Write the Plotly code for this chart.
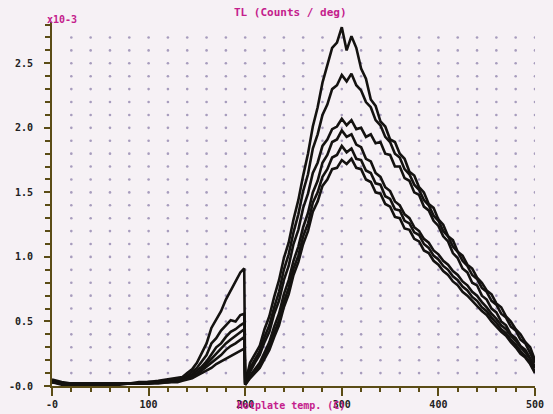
import numpy as np
import plotly.graph_objects as go

# Temperatures (C)
TEMP_PRE = [0, 10, 20, 30, 40, 50, 60, 70, 80, 90, 100, 110, 120, 130,
            135, 140, 145, 150, 155, 160, 165, 170, 175, 180, 185, 190, 195,
            199, 200]
TEMP_MAIN = list(range(205, 505, 5))

# TL (x10^-3 counts / deg) for six glow curves
A_PRE = [0.05, 0.03, 0.02, 0.02, 0.02, 0.02, 0.02, 0.02, 0.02, 0.03, 0.03, 0.04, 0.05, 0.06,
         0.07, 0.10, 0.13, 0.18, 0.26, 0.33, 0.45, 0.52, 0.58, 0.67, 0.74, 0.80, 0.88, 0.91, 0.02]
B_PRE = [0.04, 0.02, 0.02, 0.01, 0.02, 0.02, 0.02, 0.02, 0.02, 0.02, 0.03, 0.03, 0.04, 0.05,
         0.06, 0.08, 0.11, 0.14, 0.19, 0.24, 0.33, 0.37, 0.43, 0.47, 0.51, 0.50, 0.55, 0.56, 0.02]
C_PRE = [0.04, 0.02, 0.01, 0.01, 0.01, 0.02, 0.02, 0.02, 0.02, 0.02, 0.03, 0.03, 0.04, 0.05,
         0.06, 0.07, 0.09, 0.12, 0.15, 0.19, 0.25, 0.30, 0.33, 0.38, 0.42, 0.44, 0.47, 0.49, 0.02]
D_PRE = [0.03, 0.02, 0.01, 0.01, 0.01, 0.01, 0.02, 0.02, 0.02, 0.02, 0.02, 0.03, 0.03, 0.04,
         0.05, 0.06, 0.08, 0.10, 0.13, 0.17, 0.21, 0.25, 0.29, 0.33, 0.36, 0.39, 0.42, 0.44, 0.01]
E_PRE = [0.03, 0.02, 0.01, 0.01, 0.01, 0.01, 0.01, 0.02, 0.02, 0.02, 0.02, 0.03, 0.03, 0.04,
         0.05, 0.06, 0.07, 0.09, 0.12, 0.15, 0.18, 0.21, 0.24, 0.28, 0.31, 0.33, 0.36, 0.38, 0.01]
F_PRE = [0.03, 0.01, 0.01, 0.01, 0.01, 0.01, 0.01, 0.01, 0.02, 0.02, 0.02, 0.02, 0.03, 0.03,
         0.04, 0.05, 0.06, 0.08, 0.10, 0.12, 0.14, 0.17, 0.19, 0.21, 0.23, 0.25, 0.27, 0.29, 0.01]

A_MAIN = [0.18, 0.25, 0.31, 0.44, 0.54, 0.69, 0.82, 0.99, 1.11, 1.29, 1.44, 1.63, 1.80, 2.01, 2.16,
          2.35, 2.48, 2.62, 2.66, 2.78, 2.60, 2.71, 2.62, 2.46, 2.38, 2.22, 2.17, 2.05, 2.01, 1.91,
          1.89, 1.80, 1.76, 1.66, 1.63, 1.54, 1.50, 1.41, 1.38, 1.29, 1.25, 1.16, 1.13, 1.04, 1.01,
          0.94, 0.91, 0.84, 0.80, 0.74, 0.71, 0.64, 0.61, 0.54, 0.50, 0.44, 0.40, 0.34, 0.30, 0.20]
B_MAIN = [0.14, 0.21, 0.27, 0.38, 0.47, 0.61, 0.73, 0.90, 1.02, 1.19, 1.33, 1.51, 1.64, 1.84, 1.95,
          2.10, 2.18, 2.30, 2.33, 2.41, 2.36, 2.42, 2.33, 2.29, 2.20, 2.16, 2.06, 2.02, 1.93, 1.89,
          1.80, 1.77, 1.68, 1.64, 1.56, 1.52, 1.44, 1.40, 1.32, 1.28, 1.20, 1.16, 1.08, 1.04, 0.97,
          0.93, 0.86, 0.83, 0.76, 0.73, 0.66, 0.63, 0.56, 0.53, 0.46, 0.43, 0.36, 0.33, 0.26, 0.18]
C_MAIN = [0.11, 0.18, 0.24, 0.34, 0.42, 0.56, 0.66, 0.82, 0.93, 1.10, 1.21, 1.38, 1.49, 1.65, 1.73,
          1.86, 1.91, 1.99, 2.01, 2.07, 2.02, 2.06, 1.99, 2.00, 1.93, 1.95, 1.88, 1.89, 1.80, 1.79,
          1.70, 1.70, 1.61, 1.59, 1.50, 1.48, 1.39, 1.36, 1.28, 1.24, 1.16, 1.12, 1.03, 0.99, 0.91,
          0.88, 0.80, 0.78, 0.70, 0.67, 0.60, 0.57, 0.50, 0.47, 0.40, 0.37, 0.31, 0.28, 0.22, 0.15]
D_MAIN = [0.08, 0.13, 0.18, 0.26, 0.34, 0.46, 0.56, 0.71, 0.82, 0.97, 1.08, 1.23, 1.34, 1.50, 1.59,
          1.73, 1.79, 1.89, 1.91, 1.98, 1.93, 1.95, 1.87, 1.85, 1.76, 1.74, 1.65, 1.62, 1.54, 1.51,
          1.43, 1.40, 1.33, 1.30, 1.23, 1.20, 1.14, 1.11, 1.05, 1.02, 0.97, 0.94, 0.89, 0.86, 0.81,
          0.78, 0.73, 0.70, 0.65, 0.61, 0.56, 0.52, 0.47, 0.44, 0.39, 0.35, 0.30, 0.26, 0.21, 0.14]
E_MAIN = [0.07, 0.11, 0.16, 0.23, 0.31, 0.41, 0.51, 0.65, 0.76, 0.91, 1.01, 1.16, 1.26, 1.42, 1.50,
          1.62, 1.68, 1.77, 1.79, 1.86, 1.81, 1.84, 1.76, 1.75, 1.67, 1.65, 1.57, 1.56, 1.47, 1.45,
          1.37, 1.36, 1.28, 1.26, 1.19, 1.17, 1.10, 1.07, 1.01, 0.98, 0.93, 0.90, 0.85, 0.82, 0.77,
          0.74, 0.69, 0.66, 0.61, 0.58, 0.53, 0.49, 0.44, 0.41, 0.36, 0.32, 0.27, 0.23, 0.18, 0.11]
F_MAIN = [0.06, 0.10, 0.14, 0.21, 0.28, 0.38, 0.47, 0.61, 0.71, 0.86, 0.96, 1.10, 1.20, 1.35, 1.43,
          1.55, 1.60, 1.68, 1.69, 1.75, 1.72, 1.76, 1.69, 1.68, 1.60, 1.58, 1.50, 1.49, 1.41, 1.39,
          1.31, 1.30, 1.22, 1.21, 1.14, 1.12, 1.05, 1.03, 0.97, 0.94, 0.89, 0.86, 0.81, 0.78, 0.73,
          0.70, 0.66, 0.62, 0.58, 0.55, 0.50, 0.46, 0.42, 0.39, 0.34, 0.30, 0.25, 0.22, 0.17, 0.10]

Y_TICKS = [0.0, 0.5, 1.0, 1.5, 2.0, 2.5]
Y_TICK_TEXT = ["-0.0", "0.5", "1.0", "1.5", "2.0", "2.5"]
X_TICKS = [0, 100, 200, 300, 400, 500]
X_TICK_TEXT = ["-0", "100", "200", "300", "400", "500"]

BG = "#f6f1f5"
AXIS = "#5b4c16"
MAGENTA = "#c4208c"
FONT = "DejaVu Sans Mono"

temps = TEMP_PRE + TEMP_MAIN
curves = [A_PRE + A_MAIN, B_PRE + B_MAIN, C_PRE + C_MAIN,
          D_PRE + D_MAIN, E_PRE + E_MAIN, F_PRE + F_MAIN]

fig = go.Figure()

# dotted background lattice (grid decoration)
gx, gy = np.meshgrid(np.arange(20, 501, 20), np.round(np.arange(0.1, 2.75, 0.1), 2))
fig.add_trace(go.Scatter(x=gx.ravel(), y=gy.ravel(), mode="markers",
                         marker=dict(size=2.6, color="#a79cbd"),
                         hoverinfo="skip", showlegend=False))

for c in curves:
    fig.add_trace(go.Scatter(x=temps, y=c, mode="lines",
                             line=dict(color="#141210", width=2.6),
                             showlegend=False))

fig.update_layout(
    width=553, height=414,
    margin=dict(l=52, r=18, t=22, b=28),
    paper_bgcolor=BG, plot_bgcolor=BG,
    font=dict(family=FONT, size=10, color="#111"),
    xaxis=dict(range=[0, 500], showgrid=False, zeroline=False, automargin=False,
               showline=True, linecolor=AXIS, linewidth=2,
               tickvals=X_TICKS, ticktext=X_TICK_TEXT,
               ticks="outside", ticklen=8, tickwidth=2, tickcolor=AXIS,
               tickfont=dict(family=FONT, size=10, color="#222", weight="bold"),
               minor=dict(dtick=20, ticks="outside", ticklen=4, tickwidth=2, tickcolor=AXIS,
                          showgrid=False)),
    yaxis=dict(range=[0, 2.82], showgrid=False, zeroline=False, automargin=False,
               showline=True, linecolor=AXIS, linewidth=2,
               tickvals=Y_TICKS, ticktext=Y_TICK_TEXT,
               ticks="outside", ticklen=6, tickwidth=2, tickcolor=AXIS,
               ticklabelstandoff=9,
               tickfont=dict(family=FONT, size=10, color="#222", weight="bold"),
               minor=dict(dtick=0.1, ticks="outside", ticklen=5, tickwidth=2, tickcolor=AXIS,
                          showgrid=False)),
)

fig.add_annotation(text="TL (Counts / deg)", xref="paper", yref="paper",
                   x=0.494, y=1.0, yshift=10, xanchor="center", yanchor="middle",
                   showarrow=False,
                   font=dict(family=FONT, size=11, color=MAGENTA, weight="bold"))
fig.add_annotation(text="x10-3", xref="paper", yref="paper",
                   x=0.0, y=1.0, xshift=-7, yshift=-5, xanchor="left", yanchor="bottom",
                   showarrow=False,
                   font=dict(family=FONT, size=10, color=MAGENTA, weight="bold"))
fig.add_annotation(text="Hotplate temp. (C)", xref="paper", yref="paper",
                   x=0.494, y=0.0, yshift=-19, xanchor="center", yanchor="middle",
                   showarrow=False,
                   font=dict(family=FONT, size=10, color=MAGENTA, weight="bold"))

fig.write_html("out.html",
               config={"displayModeBar": False},
               post_script="document.body.style.margin='0';document.body.style.overflow='hidden';")
